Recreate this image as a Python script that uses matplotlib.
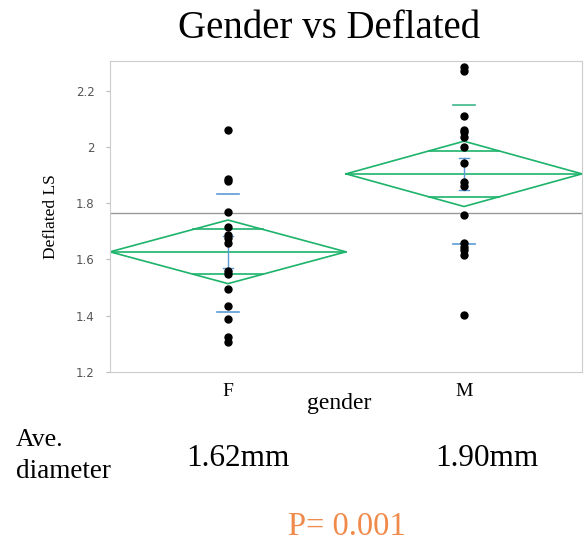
import matplotlib.pyplot as plt
import numpy as np

plt.rcParams['font.family'] = ['Liberation Serif', 'DejaVu Serif']

groups = ['F', 'M']
f_vals = [2.061, 1.887, 1.880, 1.769, 1.716, 1.688, 1.677, 1.659,
          1.559, 1.549, 1.495, 1.435, 1.389, 1.325, 1.307]
m_vals = [2.282, 2.271, 2.108, 2.061, 2.051, 2.036, 2.001, 1.944,
          1.876, 1.862, 1.759, 1.659, 1.645, 1.634, 1.616, 1.403]

group_means = [1.627, 1.904]
ci_half = [0.113, 0.116]
sd_upper = [1.832, 2.150]
sd_lower = [1.414, 1.655]
se_half = [0.057, 0.057]
grand_mean = 1.764

yticks = [1.2, 1.4, 1.6, 1.8, 2.0, 2.2]
ytick_labels = ['1.2', '1.4', '1.6', '1.8', '2', '2.2']
ave_labels = ['1.62mm', '1.90mm']
p_text = 'P= 0.001'

green = '#1DB36B'
blue = '#5B9BD5'

fig = plt.figure(figsize=(5.84, 5.46), dpi=100)
ax = fig.add_axes([110 / 584, 1 - 372 / 546, 472 / 584, 311 / 546])

ax.axhline(grand_mean, color='#999999', lw=1, zorder=1)

for i, (vals, mean, ci) in enumerate(zip([f_vals, m_vals], group_means, ci_half)):
    # means diamond
    dx = [i - 0.5, i, i + 0.5, i, i - 0.5]
    dy = [mean, mean + ci, mean, mean - ci, mean]
    ax.plot(dx, dy, color=green, lw=1.2, zorder=2)
    ax.plot([i - 0.5, i + 0.5], [mean, mean], color=green, lw=1.2, zorder=2)
    # overlap marks
    ov = ci / np.sqrt(2)
    w = 0.5 * (1 - ov / ci)
    for s in (1, -1):
        ax.plot([i - w, i + w], [mean + s * ov, mean + s * ov], color=green, lw=1.2, zorder=2)
    # std error bar
    ax.plot([i, i], [mean - se_half[i], mean + se_half[i]], color=blue, lw=1, zorder=2)
    for s in (1, -1):
        ax.plot([i - 0.02, i + 0.02], [mean + s * se_half[i]] * 2, color=blue, lw=1, zorder=2)
    # std dev lines
    sd_col = blue if i == 0 else '#3DB88A'
    ax.plot([i - 0.045, i + 0.045], [sd_upper[i]] * 2, color=sd_col, lw=1.2, zorder=2)
    ax.plot([i - 0.045, i + 0.045], [sd_lower[i]] * 2, color=blue, lw=1.2, zorder=2)
    ax.plot([i] * len(vals), vals, 'o', color='black', ms=5, zorder=3)

ax.set_xlim(-0.5, 1.5)
ax.set_ylim(1.2, 2.305)
ax.set_yticks(yticks)
ax.set_yticklabels(ytick_labels, family='DejaVu Sans', fontsize=8.5, color='#555555')
ax.set_xticks([0, 1])
ax.set_xticklabels(groups, fontsize=14)
ax.tick_params(axis='y', length=3, color='#bbbbbb', pad=8)
ax.tick_params(axis='x', length=0, pad=8)
for sp in ax.spines.values():
    sp.set_color('#cccccc')
ax.set_ylabel('Deflated LS', fontsize=12.5, labelpad=12)

fig.text(329 / 584, 1 - 28 / 546, 'Gender vs Deflated', fontsize=28,
         ha='center', va='center')
fig.text(339 / 584, 1 - 404 / 546, 'gender', fontsize=17, ha='center', va='center')
fig.text(16 / 584, 1 - 440 / 546, 'Ave.', fontsize=18.5, ha='left', va='center')
fig.text(16 / 584, 1 - 471 / 546, 'diameter', fontsize=19.5, ha='left', va='center')
for xc, lab in zip([238, 487], ave_labels):
    fig.text(xc / 584, 1 - 458 / 546, lab, fontsize=22.5, ha='center', va='center')
fig.text(347 / 584, 1 - 527 / 546, p_text, fontsize=23.5, color='#F08A4B',
         ha='center', va='center')

fig.savefig('out.png', dpi=100)
